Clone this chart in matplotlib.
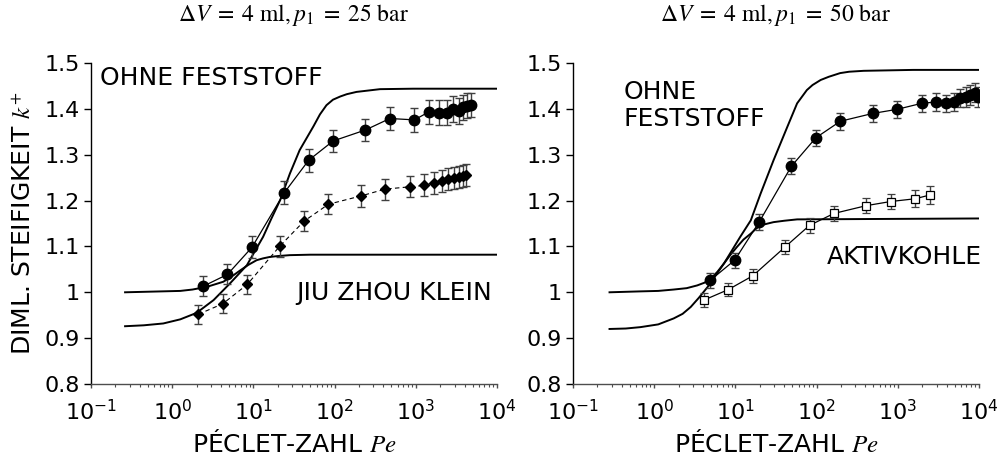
import numpy as np
import matplotlib
matplotlib.use("Agg")
import matplotlib.pyplot as plt
from matplotlib.ticker import LogLocator, FixedLocator, NullFormatter

# ---------------- left panel: dV = 4 ml, p1 = 25 bar ----------------
pe_ohne_25 = [2.4, 4.8, 9.6, 24, 48, 96, 240, 480, 960, 1440, 1920,
              2400, 2880, 3360, 3840, 4320, 4800]
k_ohne_25 = [1.013, 1.039, 1.098, 1.217, 1.288, 1.330, 1.354, 1.379, 1.376,
             1.393, 1.392, 1.392, 1.399, 1.395, 1.403, 1.407, 1.408]
err_ohne_25 = [0.022, 0.022, 0.024, 0.025, 0.025, 0.025, 0.025, 0.025, 0.026,
               0.027, 0.028, 0.028, 0.028, 0.028, 0.028, 0.027, 0.026]

pe_jiu = [2.1, 4.2, 8.4, 21, 42, 84, 210, 420, 840, 1260, 1680,
          2100, 2520, 2940, 3360, 3780, 4200]
k_jiu = [0.952, 0.975, 1.017, 1.100, 1.155, 1.192, 1.210, 1.225, 1.230,
         1.233, 1.239, 1.243, 1.246, 1.249, 1.252, 1.253, 1.255]
err_jiu = [0.021, 0.021, 0.021, 0.022, 0.022, 0.022, 0.023, 0.023, 0.023,
           0.024, 0.024, 0.024, 0.024, 0.024, 0.024, 0.024, 0.024]

# model curves, left panel (log10 Pe, k+)
model_ohne_25_logpe = [-0.58, -0.35, -0.11, 0.10, 0.30, 0.51, 0.71, 0.92, 1.12,
                       1.22, 1.33, 1.45, 1.57, 1.74, 1.82, 1.90, 1.98, 2.07,
                       2.15, 2.27, 2.56, 2.97, 4.0]
model_ohne_25_k = [0.926, 0.928, 0.932, 0.941, 0.955, 0.983, 1.019, 1.059, 1.121,
                   1.160, 1.201, 1.259, 1.310, 1.362, 1.388, 1.408, 1.420, 1.427,
                   1.432, 1.437, 1.443, 1.444, 1.444]
model_jiu_logpe = [-0.58, 0.10, 0.25, 0.43, 0.63, 0.73, 0.84, 0.94, 1.04, 1.12,
                   1.20, 1.30, 1.45, 1.70, 2.07, 4.0]
model_jiu_k = [1.000, 1.003, 1.006, 1.012, 1.023, 1.034, 1.048, 1.060, 1.070,
               1.074, 1.077, 1.079, 1.081, 1.082, 1.082, 1.082]

# ---------------- right panel: dV = 4 ml, p1 = 50 bar ----------------
pe_ohne_50 = [4.9, 9.8, 19.6, 49, 98, 196, 490, 980, 1960, 2940, 3920,
              4900, 5880, 6860, 7840, 8820, 9800]
k_ohne_50 = [1.026, 1.070, 1.153, 1.275, 1.337, 1.373, 1.390, 1.399, 1.412,
             1.415, 1.412, 1.415, 1.424, 1.426, 1.430, 1.435, 1.426]
err_ohne_50 = [0.017, 0.016, 0.017, 0.017, 0.017, 0.018, 0.018, 0.018, 0.019,
               0.019, 0.019, 0.020, 0.020, 0.021, 0.021, 0.021, 0.021]

pe_aktiv = [4.1, 8.2, 16.4, 41, 82, 164, 410, 820, 1640, 2460]
k_aktiv = [0.983, 1.006, 1.036, 1.099, 1.146, 1.172, 1.189, 1.198, 1.204, 1.212]
err_aktiv = [0.015, 0.015, 0.015, 0.016, 0.016, 0.016, 0.017, 0.017, 0.018, 0.019]

model_ohne_50_logpe = [-0.55, -0.35, -0.17, 0.05, 0.24, 0.35, 0.45, 0.55, 0.66,
                       0.86, 1.06, 1.19, 1.31, 1.47, 1.64, 1.76, 1.88, 1.95,
                       2.05, 2.15, 2.29, 2.40, 2.58, 3.19, 4.0]
model_ohne_50_k = [0.920, 0.921, 0.924, 0.930, 0.943, 0.953, 0.968, 0.988, 1.012,
                   1.063, 1.121, 1.157, 1.215, 1.288, 1.361, 1.412, 1.441, 1.452,
                   1.463, 1.470, 1.478, 1.481, 1.483, 1.485, 1.485]
model_aktiv_logpe = [-0.55, -0.17, 0.05, 0.24, 0.40, 0.53, 0.62, 0.70, 0.78,
                     0.86, 0.94, 1.02, 1.10, 1.19, 1.25, 1.31, 1.40, 1.47,
                     1.60, 1.76, 4.0]
model_aktiv_k = [1.000, 1.002, 1.003, 1.006, 1.009, 1.015, 1.021, 1.030, 1.045,
                 1.063, 1.082, 1.099, 1.115, 1.128, 1.138, 1.146, 1.150, 1.153,
                 1.156, 1.159, 1.161]

titles = [r"$\Delta V\;=\;4\ \mathrm{ml},p_1\;=\;25\ \mathrm{bar}$",
          r"$\Delta V\;=\;4\ \mathrm{ml},p_1\;=\;50\ \mathrm{bar}$"]
yticks = [0.8, 0.9, 1.0, 1.1, 1.2, 1.3, 1.4, 1.5]
ytick_labels = ["0.8", "0.9", "1", "1.1", "1.2", "1.3", "1.4", "1.5"]
xticks = [0.1, 1, 10, 100, 1000, 10000]
xtick_labels = [r"$\mathregular{10^{-1}}$", r"$\mathregular{10^{0}}$",
                r"$\mathregular{10^{1}}$", r"$\mathregular{10^{2}}$",
                r"$\mathregular{10^{3}}$", r"$\mathregular{10^{4}}$"]

plt.rcParams["font.family"] = ["DejaVu Sans"]
plt.rcParams["mathtext.fontset"] = "dejavusans"

fig = plt.figure(figsize=(10.04, 4.59), dpi=100)
ax1 = fig.add_axes([0.0906, 0.1634, 0.4044, 0.6993])
ax2 = fig.add_axes([0.5707, 0.1634, 0.4044, 0.6993])

ebar_kw = dict(capsize=3, elinewidth=1.0, ecolor="0.25", capthick=1.0)

# left panel
ax1.plot(10 ** np.array(model_ohne_25_logpe), model_ohne_25_k, color="black", lw=1.4)
ax1.plot(10 ** np.array(model_jiu_logpe), model_jiu_k, color="black", lw=1.4)
ax1.errorbar(pe_jiu, k_jiu, yerr=err_jiu, fmt="D", ms=5.5, color="black",
             ls=(0, (4, 3)), lw=0.8, **ebar_kw)
ax1.lines[-1].set_color("0.35")
ax1.errorbar(pe_ohne_25, k_ohne_25, yerr=err_ohne_25, fmt="o", ms=7.5, color="black",
             ls="-", lw=0.9, **ebar_kw)

# right panel
ax2.plot(10 ** np.array(model_ohne_50_logpe), model_ohne_50_k, color="black", lw=1.4)
ax2.plot(10 ** np.array(model_aktiv_logpe), model_aktiv_k, color="black", lw=1.4)
ax2.errorbar(pe_aktiv, k_aktiv, yerr=err_aktiv, fmt="s", ms=6, color="black",
             mfc="white", mec="black", mew=0.9, ls="-", lw=0.9, **ebar_kw)
ax2.errorbar(pe_ohne_50, k_ohne_50, yerr=err_ohne_50, fmt="o", ms=7.5, color="black",
             ls="-", lw=0.9, **ebar_kw)

for ax, title in zip([ax1, ax2], titles):
    ax.set_xscale("log")
    ax.set_xlim(0.1, 1e4)
    ax.set_ylim(0.8, 1.5)
    ax.spines["top"].set_visible(False)
    ax.spines["right"].set_visible(False)
    ax.spines["left"].set_linewidth(1.0)
    ax.spines["bottom"].set_linewidth(1.0)
    ax.spines["bottom"].set_color("0.3")
    ax.xaxis.set_major_locator(FixedLocator(xticks))
    ax.set_xticklabels(xtick_labels)
    ax.xaxis.set_minor_locator(LogLocator(base=10, subs=np.arange(2, 10), numticks=20))
    ax.xaxis.set_minor_formatter(NullFormatter())
    ax.set_yticks(yticks)
    ax.set_yticklabels(ytick_labels)
    ax.tick_params(axis="x", which="major", direction="out", length=3, width=1,
                   labelsize=16, pad=8, color="0.3")
    ax.tick_params(axis="x", which="minor", direction="out", length=2, width=0.8,
                   color="0.3")
    ax.tick_params(axis="y", direction="out", length=5, width=1, labelsize=16, pad=3)
    ax.set_xlabel("PÉCLET-ZAHL $Pe$", fontsize=18, math_fontfamily="stix", labelpad=4)
    ax.set_title(title, fontsize=17, math_fontfamily="stix", pad=30)

ax1.set_ylabel("DIML. STEIFIGKEIT $k^{+}$", fontsize=18, math_fontfamily="stix",
               labelpad=6)

ax1.text(0.129, 1.467, "OHNE FESTSTOFF", fontsize=18, va="center", ha="left")
ax1.text(33.5, 0.998, "JIU ZHOU KLEIN", fontsize=18, va="center", ha="left",
         clip_on=False)
ax2.text(0.42, 1.408, "OHNE\nFESTSTOFF", fontsize=18, va="center", ha="left",
         linespacing=1.15)
ax2.text(132, 1.076, "AKTIVKOHLE", fontsize=18, va="center", ha="left",
         clip_on=False)

fig.savefig("out.png", dpi=100)
